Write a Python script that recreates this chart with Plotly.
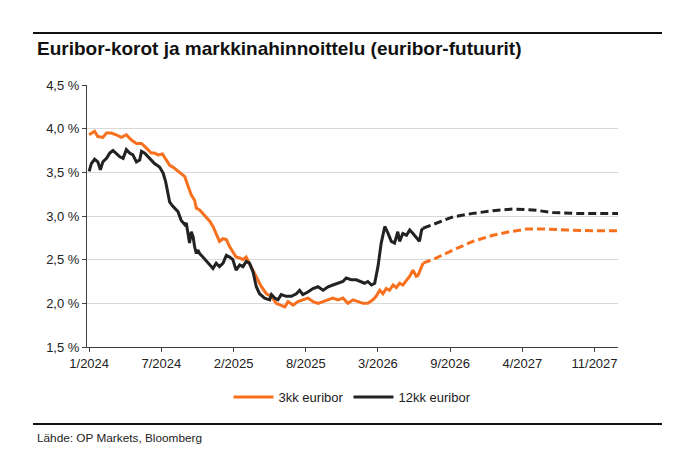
import plotly.graph_objects as go

# ---- data ----
orange_dates = ["2024-01-01","2024-01-16","2024-01-25","2024-02-08","2024-02-18","2024-03-02","2024-03-16","2024-03-30",
    "2024-04-13","2024-04-27","2024-05-11","2024-05-25","2024-06-07","2024-06-21","2024-06-30","2024-07-10","2024-07-22",
    "2024-08-02","2024-08-11","2024-08-20","2024-08-29","2024-09-12","2024-09-22","2024-10-01","2024-10-10","2024-10-19",
    "2024-10-24","2024-11-02","2024-11-11","2024-11-21","2024-11-30","2024-12-09","2024-12-18","2024-12-27","2025-01-06",
    "2025-01-15","2025-01-24","2025-02-02","2025-02-11","2025-02-21","2025-03-02","2025-03-11","2025-03-20","2025-03-30",
    "2025-04-08","2025-04-22","2025-05-06","2025-05-20","2025-06-02","2025-06-16","2025-06-26","2025-07-05","2025-07-19",
    "2025-08-01","2025-08-15","2025-08-29","2025-09-12","2025-09-26","2025-10-10","2025-10-24","2025-11-06","2025-11-20",
    "2025-12-04","2025-12-18","2026-01-01","2026-01-15","2026-01-29","2026-02-11","2026-02-25","2026-03-06","2026-03-16",
    "2026-03-25","2026-04-03","2026-04-12","2026-04-22","2026-05-01","2026-05-10","2026-05-19","2026-05-29","2026-06-07",
    "2026-06-16","2026-06-25","2026-06-30","2026-07-09","2026-07-14"]
orange_vals = [3.93,3.97,3.91,3.90,3.95,3.95,3.93,3.90,
    3.93,3.87,3.83,3.83,3.78,3.72,3.72,3.70,3.71,
    3.64,3.58,3.56,3.53,3.49,3.45,3.34,3.24,3.18,
    3.09,3.07,3.03,2.99,2.94,2.88,2.80,2.71,2.74,
    2.73,2.65,2.59,2.53,2.52,2.50,2.53,2.46,2.38,
    2.31,2.19,2.11,2.08,2.00,1.98,1.96,2.02,1.98,
    2.02,2.04,2.06,2.02,2.00,2.02,2.04,2.06,2.04,
    2.06,2.00,2.04,2.02,2.00,2.00,2.04,2.08,2.15,
    2.11,2.17,2.15,2.21,2.18,2.23,2.21,2.27,2.31,
    2.38,2.31,2.32,2.42,2.46]

black_dates = ["2024-01-01","2024-01-07","2024-01-16","2024-01-25","2024-02-01","2024-02-08","2024-02-18","2024-02-27",
    "2024-03-07","2024-03-16","2024-03-25","2024-04-04","2024-04-13","2024-04-22","2024-05-01","2024-05-11","2024-05-20",
    "2024-05-25","2024-06-03","2024-06-12","2024-06-21","2024-06-30","2024-07-14","2024-07-24","2024-07-31","2024-08-06",
    "2024-08-11","2024-08-20","2024-09-03","2024-09-12","2024-09-22","2024-09-26","2024-10-01","2024-10-05","2024-10-10",
    "2024-10-15","2024-10-19","2024-10-24","2024-10-28","2024-11-02","2024-11-11","2024-11-21","2024-11-30","2024-12-09",
    "2024-12-18","2024-12-27","2025-01-06","2025-01-15","2025-01-24","2025-02-02","2025-02-11","2025-02-21","2025-03-02",
    "2025-03-11","2025-03-20","2025-03-30","2025-04-08","2025-04-17","2025-05-01","2025-05-15","2025-05-20","2025-05-29",
    "2025-06-07","2025-06-16","2025-06-30","2025-07-14","2025-07-28","2025-08-06","2025-08-15","2025-08-29","2025-09-12",
    "2025-09-26","2025-10-10","2025-10-24","2025-11-06","2025-11-20","2025-12-04","2025-12-13","2025-12-27","2026-01-10",
    "2026-01-24","2026-02-02","2026-02-11","2026-02-21","2026-03-02","2026-03-11","2026-03-20","2026-03-30","2026-04-08",
    "2026-04-17","2026-04-26","2026-05-01","2026-05-05","2026-05-10","2026-05-19","2026-05-29","2026-06-07","2026-06-16",
    "2026-06-25","2026-07-04","2026-07-10","2026-07-14"]
black_vals = [3.51,3.60,3.65,3.62,3.53,3.62,3.66,3.72,
    3.75,3.72,3.68,3.66,3.76,3.72,3.70,3.62,3.64,
    3.74,3.72,3.68,3.64,3.60,3.56,3.49,3.39,3.26,
    3.16,3.11,3.05,2.95,2.90,2.92,2.80,2.69,2.82,
    2.76,2.65,2.57,2.61,2.57,2.53,2.48,2.44,2.40,
    2.46,2.42,2.46,2.55,2.53,2.50,2.38,2.44,2.42,
    2.48,2.46,2.36,2.19,2.11,2.06,2.04,2.10,2.06,
    2.04,2.10,2.08,2.08,2.11,2.15,2.10,2.13,2.17,
    2.19,2.15,2.19,2.21,2.23,2.25,2.29,2.27,2.27,
    2.25,2.23,2.25,2.21,2.23,2.42,2.69,2.88,2.80,
    2.71,2.69,2.76,2.82,2.71,2.80,2.78,2.84,2.80,
    2.76,2.71,2.84,2.86]

fwd_dates = ["2026-07-14","2026-08-20","2026-10-05","2026-11-29","2027-01-24","2027-03-11","2027-04-26",
    "2027-06-20","2027-08-15","2027-10-28","2028-01-05"]
orange_fwd = [2.46,2.52,2.61,2.71,2.78,2.82,2.85,2.85,2.84,2.83,2.83]
black_fwd_dates = ["2026-07-14","2026-08-20","2026-10-05","2026-11-29","2027-01-24","2027-03-20","2027-05-14",
    "2027-07-09","2027-09-02","2027-10-28","2028-01-05"]
black_fwd = [2.86,2.92,2.99,3.03,3.06,3.08,3.07,3.04,3.03,3.03,3.03]

x_tickvals = ["2024-01-01","2024-07-19","2025-02-04","2025-08-23","2026-03-11","2026-09-27","2027-04-15","2027-11-01"]
x_ticktext = ["1/2024","7/2024","2/2025","8/2025","3/2026","9/2026","4/2027","11/2027"]
y_tickvals = [1.5,2.0,2.5,3.0,3.5,4.0,4.5]
y_ticktext = ["1,5 %","2,0 %","2,5 %","3,0 %","3,5 %","4,0 %","4,5 %"]

ORANGE = "#F7701E"
BLACK = "#222222"
FONT = "Arial, Liberation Sans, sans-serif"

fig = go.Figure()
fig.add_trace(go.Scatter(x=fwd_dates, y=orange_fwd, mode="lines",
    line=dict(color=ORANGE, width=3, dash="8px,4px"), showlegend=False, hoverinfo="skip"))
fig.add_trace(go.Scatter(x=black_fwd_dates, y=black_fwd, mode="lines",
    line=dict(color=BLACK, width=3, dash="8px,4px"), showlegend=False, hoverinfo="skip"))
fig.add_trace(go.Scatter(x=orange_dates, y=orange_vals, mode="lines", name="3kk euribor",
    line=dict(color=ORANGE, width=3)))
fig.add_trace(go.Scatter(x=black_dates, y=black_vals, mode="lines", name="12kk euribor",
    line=dict(color=BLACK, width=3)))

W, H = 690, 456
L, R, T, B = 87, 72, 85, 109
pw, ph = W - L - R, H - T - B
def px(x): return (x - L) / pw
def py(y): return (H - B - y) / ph

fig.update_layout(
    width=W, height=H, margin=dict(l=L, r=R, t=T, b=B),
    paper_bgcolor="white", plot_bgcolor="white",
    font=dict(family=FONT, size=12.5, color="#222222"),
    title=dict(text="<b>Euribor-korot ja markkinahinnoittelu (euribor-futuurit)</b>",
               x=37/W, xanchor="left", xref="container", y=1-48/H, yanchor="middle", yref="container",
               font=dict(family=FONT, size=19, color="#111111")),
    showlegend=True,
    legend=dict(orientation="h", x=0.5, xanchor="center", y=py(397), yanchor="middle",
                font=dict(family=FONT, size=13, color="#222222"), itemwidth=40,
                bgcolor="rgba(0,0,0,0)"),
    xaxis=dict(type="date", range=["2023-12-26", "2028-01-05"], tickvals=x_tickvals, ticktext=x_ticktext,
               showgrid=False, showline=True, linecolor="#404040", linewidth=1,
               ticks="outside", ticklen=4, tickcolor="#404040", tickfont=dict(size=13), zeroline=False),
    yaxis=dict(range=[1.5, 4.5], tickvals=y_tickvals, ticktext=y_ticktext,
               showgrid=True, gridcolor="#D9D9D9", gridwidth=1,
               showline=True, linecolor="#404040", linewidth=1,
               ticks="outside", ticklen=4, tickcolor="#404040", tickfont=dict(size=13), zeroline=False),
    shapes=[
        dict(type="line", xref="paper", yref="paper", x0=px(33), x1=px(662), y0=py(33), y1=py(33),
             line=dict(color="#111111", width=2)),
        dict(type="line", xref="paper", yref="paper", x0=px(33), x1=px(662), y0=py(424), y1=py(424),
             line=dict(color="#111111", width=2)),
    ],
    annotations=[
        dict(text="Lähde: OP Markets, Bloomberg", xref="paper", yref="paper", x=px(35), y=py(438),
             xanchor="left", yanchor="middle", showarrow=False, font=dict(family=FONT, size=11.8, color="#222222")),
    ],
)

fig.write_html("out.html")
